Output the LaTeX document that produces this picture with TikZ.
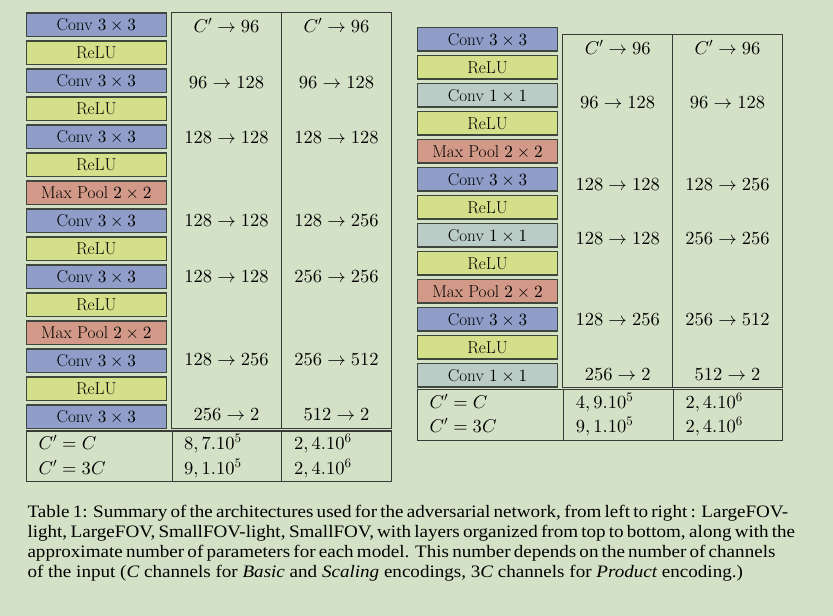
\documentclass[tikz,border=0pt]{standalone}
\usepackage{fontspec}
\DeclareFontShape{OT1}{cmr}{m}{n}{<->cmr10}{}
\DeclareFontShape{OML}{cmm}{m}{it}{<->cmmi10}{\skewchar\font=127}
\DeclareFontShape{OMS}{cmsy}{m}{n}{<->cmsy10}{\skewchar\font=48}
\newfontfamily\capfont{Liberation Serif}
\definecolor{bgc}{RGB}{211,226,199}
\definecolor{convc}{RGB}{143,157,200}
\definecolor{reluc}{RGB}{212,223,138}
\definecolor{poolc}{RGB}{210,153,136}
\definecolor{oneconvc}{RGB}{187,204,198}
\definecolor{edgec}{RGB}{62,70,62}
\definecolor{tabc}{RGB}{55,58,55}
\newcommand{\capl}[1]{\scalebox{1.09}[1]{\makebox[684.4pt][s]{#1}}}
\tikzset{
  layer/.style={draw=edgec, line width=1.1pt, minimum width=140pt, minimum height=23.4pt,
    inner sep=0pt, text height=11.6pt, text depth=0pt, font=\fontsize{17.2}{20}\selectfont},
  conv/.style={layer, fill=convc},
  relu/.style={layer, fill=reluc},
  pool/.style={layer, fill=poolc},
  onec/.style={layer, fill=oneconvc},
  tabline/.style={draw=tabc, line width=1.1pt},
  val/.style={anchor=base, inner sep=0pt, font=\fontsize{18.5}{22}\selectfont},
  lval/.style={anchor=base west, inner sep=0pt, font=\fontsize{18.5}{22}\selectfont},
  capline/.style={anchor=base west, inner sep=0pt, font=\capfont\fontsize{17.5}{20}\selectfont}
}
\begin{document}
\begin{tikzpicture}[x=1pt,y=-1pt]
\fill[bgc] (0,0) rectangle (833,616);
\useasboundingbox (0,0) rectangle (833,616);
% ---------- left stack ----------
\foreach \s/\t [count=\i from 0] in {conv/Conv $3\times 3$, relu/ReLU, conv/Conv $3\times 3$, relu/ReLU,
  conv/Conv $3\times 3$, relu/ReLU, pool/Max Pool $2\times 2$, conv/Conv $3\times 3$, relu/ReLU,
  conv/Conv $3\times 3$, relu/ReLU, pool/Max Pool $2\times 2$, conv/Conv $3\times 3$, relu/ReLU,
  conv/Conv $3\times 3$}
  \node[\s] (L\i) at (96.3, 24.7+28*\i) {\t};
% left table
\draw[tabline] (171.3,12.7) rectangle (391.3,428.3);
\draw[tabline] (281.7,12.7) -- (281.7,428.3);
\draw[tabline] (26.3,431) rectangle (391.3,481.3);
\draw[tabline] (172.3,431) -- (172.3,481.3);
\draw[tabline] (281.7,431) -- (281.7,481.3);
\foreach \y/\a/\b [count=\k] in {32.7/C'\to 96/C'\to 96, 88.3/96\to 128/96\to 128,
  143.3/128\to 128/128\to 128, 226.7/128\to 128/128\to 256, 282.3/128\to 128/256\to 256,
  365/128\to 256/256\to 512, 420.7/256\to 2/512\to 2}{
  \node[val] (la\k) at (226.5,\y) {$\a$};
  \node[val] (lb\k) at (336.5,\y) {$\b$};
}
\node[lval] (lc1) at (38.3,449.3) {$C'=C$};
\node[lval] (lc2) at (38.3,474) {$C'=3C$};
\node[lval] (ln1) at (184,449.3) {$8,7.10^5$};
\node[lval] (ln2) at (184,474) {$9,1.10^5$};
\node[lval] (lm1) at (294,449.3) {$2,4.10^6$};
\node[lval] (lm2) at (294,474) {$2,4.10^6$};
% ---------- right stack ----------
\foreach \s/\t [count=\i from 0] in {conv/Conv $3\times 3$, relu/ReLU, onec/Conv $1\times 1$, relu/ReLU,
  pool/Max Pool $2\times 2$, conv/Conv $3\times 3$, relu/ReLU, onec/Conv $1\times 1$, relu/ReLU,
  pool/Max Pool $2\times 2$, conv/Conv $3\times 3$, relu/ReLU, onec/Conv $1\times 1$}
  \node[\s] (R\i) at (487.5, 39.3+28*\i) {\t};
\draw[tabline] (562.7,34.3) rectangle (782.3,387.3);
\draw[tabline] (672.7,34.3) -- (672.7,387.3);
\draw[tabline] (417.3,389.7) rectangle (782.3,440.3);
\draw[tabline] (563.7,389.7) -- (563.7,440.3);
\draw[tabline] (673.3,389.7) -- (673.3,440.3);
\foreach \y/\a/\b [count=\k] in {54/C'\to 96/C'\to 96, 108.3/96\to 128/96\to 128,
  190/128\to 128/128\to 256, 244/128\to 128/256\to 256,
  325.7/128\to 256/256\to 512, 380/256\to 2/512\to 2}{
  \node[val] (ra\k) at (617.7,\y) {$\a$};
  \node[val] (rb\k) at (727.5,\y) {$\b$};
}
\node[lval] (rc1) at (429.3,408.3) {$C'=C$};
\node[lval] (rc2) at (429.3,432.7) {$C'=3C$};
\node[lval] (rn1) at (575.7,408.3) {$4,9.10^5$};
\node[lval] (rn2) at (575.7,432.7) {$9,1.10^5$};
\node[lval] (rm1) at (685.3,408.3) {$2,4.10^6$};
\node[lval] (rm2) at (685.3,432.7) {$2,4.10^6$};
% ---------- caption ----------
\node[capline] (cap1) at (27.3,517.3) {\capl{Table 1: Summary of the architectures used for the adversarial network, from left to right : LargeFOV-}};
\node[capline] (cap2) at (27.3,537.3) {\capl{light, LargeFOV, SmallFOV-light, SmallFOV, with layers organized from top to bottom, along with the}};
\node[capline] (cap3) at (27.3,557.3) {\capl{approximate number of parameters for each model. This number depends on the number of channels}};
\node[capline] (cap4) at (27.3,577.3) {\scalebox{1.09}[1]{of the input ({\itshape C} channels for {\itshape Basic} and {\itshape Scaling} encodings, 3{\itshape C} channels for {\itshape Product} encoding.)}};
\end{tikzpicture}
\end{document}
